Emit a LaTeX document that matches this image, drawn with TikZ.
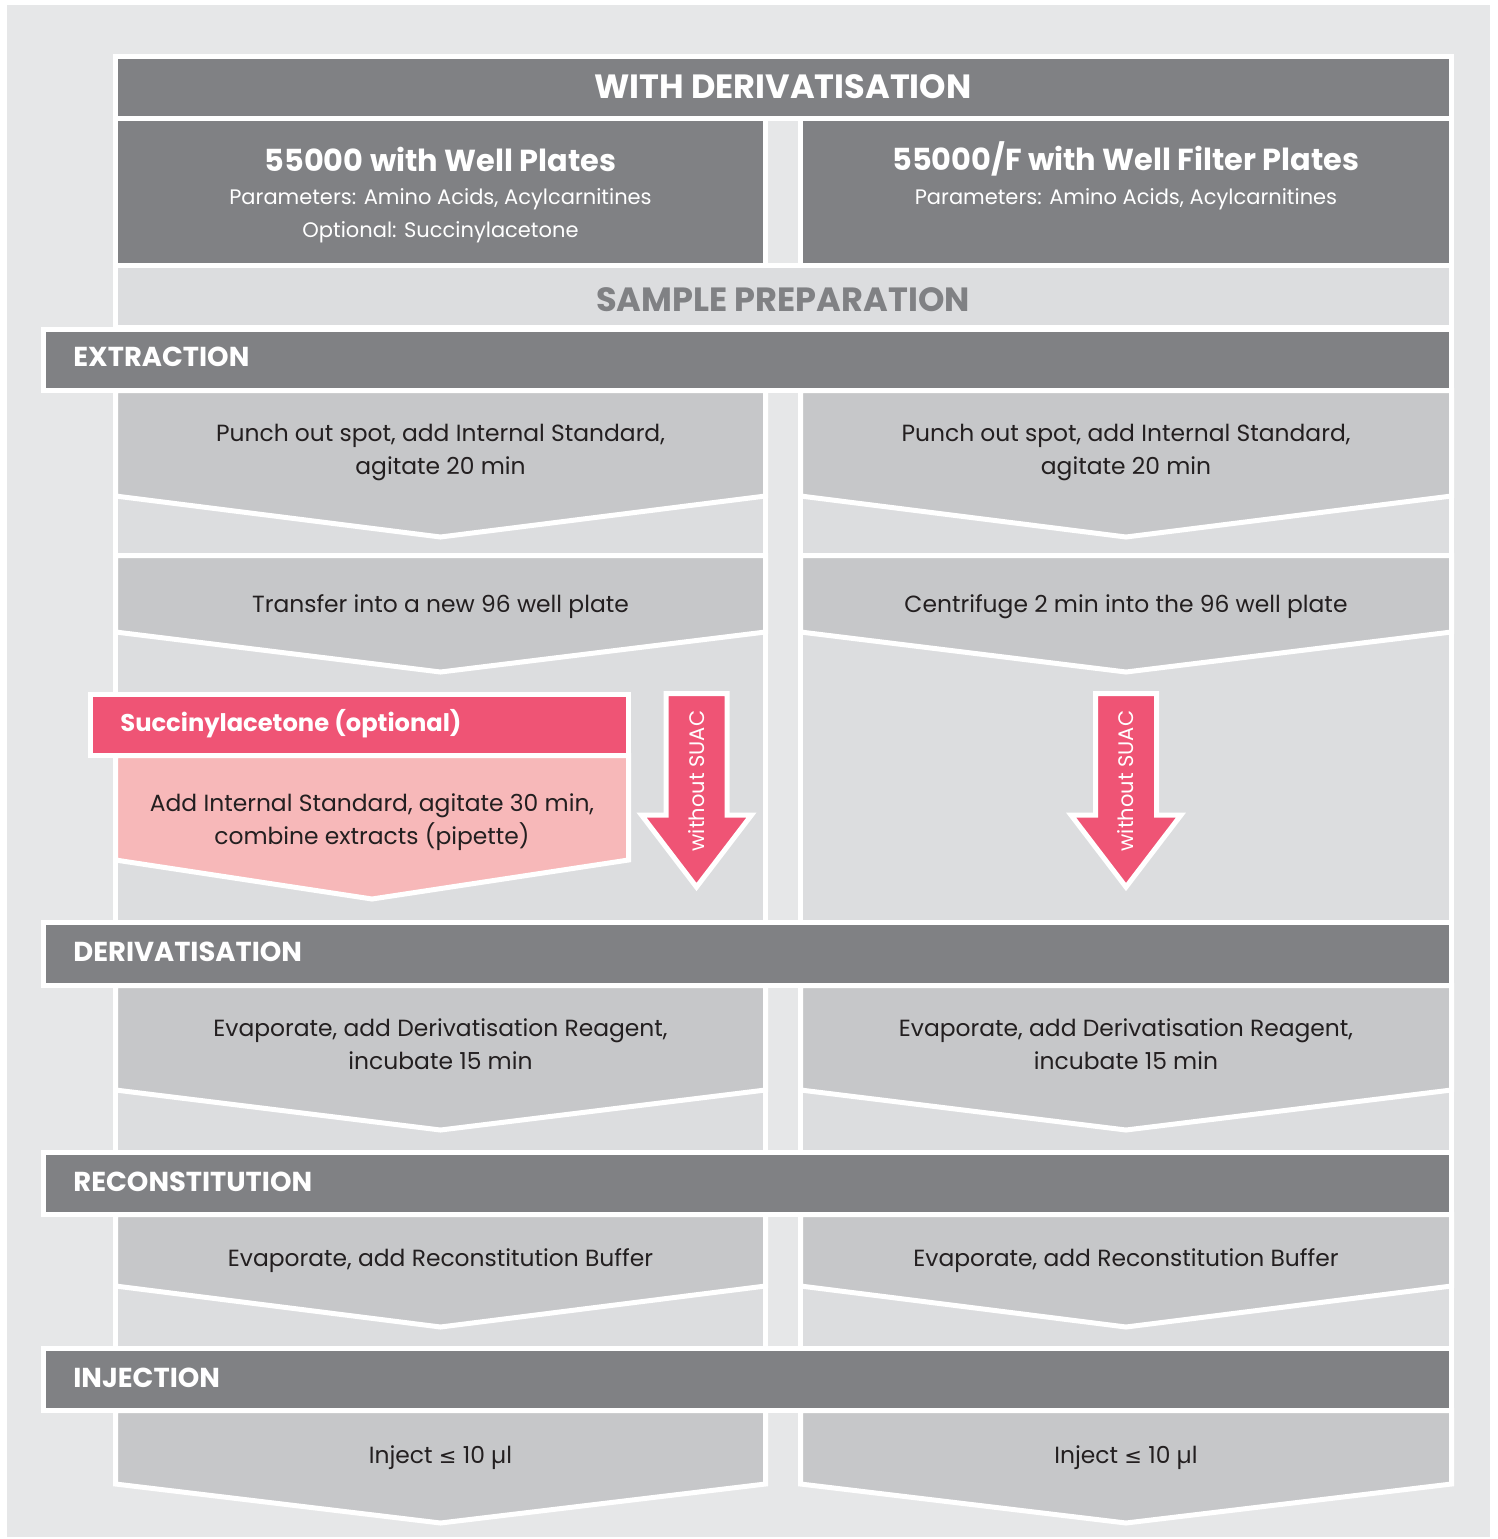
\documentclass[tikz,border=0pt]{standalone}
\usepackage{fontspec}
\setmainfont{Poppins}
\newfontfamily\symfont{DejaVu Sans}
\definecolor{dgray}{HTML}{808184}
\definecolor{panel}{HTML}{DCDDDF}
\definecolor{stepg}{HTML}{C6C7C9}
\definecolor{bggray}{HTML}{E6E7E8}
\definecolor{pinkd}{HTML}{EF5475}
\definecolor{pinkl}{HTML}{F7B8B9}
\definecolor{txt}{HTML}{231F20}
\begin{document}
\begin{tikzpicture}[x=0.5pt,y=-0.5pt,
  wl/.style={draw=white,line width=2.5pt,line join=miter},
  bar/.style={wl,fill=dgray},
  cell/.style={wl,fill=panel},
  chev/.style={wl,fill=stepg},
  pinkbar/.style={wl,fill=pinkd},
  pinkchev/.style={wl,fill=pinkl},
  steptxt/.style={text=txt,align=center,inner sep=0pt,font=\fontsize{11.7}{16.5}\selectfont},
  titletxt/.style={text=white,align=center,inner sep=0pt,font=\bfseries\fontsize{15.2}{17}\selectfont},
  paramtxt/.style={text=white,align=center,inner sep=0pt,font=\fontsize{10.5}{16.5}\selectfont},
  bigtxt/.style={inner sep=0pt,font=\bfseries\fontsize{16.8}{19}\selectfont},
  sectxt/.style={text=white,anchor=west,inner sep=0pt,font=\bfseries\fontsize{13.7}{16}\selectfont},
  suatxt/.style={text=white,anchor=west,inner sep=0pt,font=\bfseries\fontsize{12.1}{15}\selectfont},
  arrtxt/.style={text=white,inner sep=0pt,rotate=90,font=\fontsize{10.5}{12}\selectfont}
]
\useasboundingbox (0,0) rectangle (1498,1539);
\fill[white] (0,0) rectangle (1498,1539);
\fill[bggray] (7,5) rectangle (1490,1537);
% header
\path[bar] (115.5,56.5) rectangle (1451.5,118.5);
\node[bigtxt,text=white] (hdr) at (783,87) {WITH DERIVATISATION};
\path[bar] (115.5,118.5) rectangle (765.5,265.5);
\path[bar] (800.5,118.5) rectangle (1451.5,265.5);
\node[titletxt] (tl) at (440.5,159) {55000 with Well Plates};
\node[paramtxt] (pl) at (440.5,215.5) {Parameters: Amino Acids, Acylcarnitines\\Optional: Succinylacetone};
\node[paramtxt] (pr) at (1126,199) {Parameters: Amino Acids, Acylcarnitines};
\node[titletxt] (tr) at (1126,159) {55000/F with Well Filter Plates};
\path[cell] (115.5,265.5) rectangle (1451.5,327.5);
\node[bigtxt,text=dgray] (sp) at (783,300) {SAMPLE PREPARATION};
% extraction
\path[bar] (43.5,329.5) rectangle (1451.5,390.5);
\node[sectxt] (ext) at (73,357) {EXTRACTION};
\foreach \l/\r/\c in {115.5/765.5/440.5, 800.5/1451.5/1126}{
  \path[cell] (\l,390.5) rectangle (\r,555.5);
  \path[chev] (\l,390.5) -- (\r,390.5) -- (\r,496) -- (\c,537) -- (\l,496) -- cycle;
  \path[cell] (\l,555.5) rectangle (\r,922.5);
  \path[chev] (\l,555.5) -- (\r,555.5) -- (\r,632) -- (\c,672) -- (\l,632) -- cycle;
  \path[cell] (\l,985.5) rectangle (\r,1152.5);
  \path[chev] (\l,985.5) -- (\r,985.5) -- (\r,1090) -- (\c,1130) -- (\l,1090) -- cycle;
  \path[cell] (\l,1214.5) rectangle (\r,1348.5);
  \path[chev] (\l,1214.5) -- (\r,1214.5) -- (\r,1286) -- (\c,1327) -- (\l,1286) -- cycle;
  \path[chev] (\l,1410.5) -- (\r,1410.5) -- (\r,1484) -- (\c,1523) -- (\l,1484) -- cycle;
}
\node[steptxt] (e1l) at (440.5,452.5) {Punch out spot, add Internal Standard,\\agitate 20 min};
\node[steptxt] (e1r) at (1126,452.5) {Punch out spot, add Internal Standard,\\agitate 20 min};
\node[steptxt] (e2l) at (440.5,607) {Transfer into a new 96 well plate};
\node[steptxt] (e2r) at (1126,607) {Centrifuge 2 min into the 96 well plate};
% succinylacetone
\path[pinkchev] (115.5,755.5) -- (628.5,755.5) -- (628.5,860) -- (372,899) -- (115.5,860) -- cycle;
\path[pinkbar] (90.5,694.5) rectangle (628.5,755.5);
\node[suatxt] (sua) at (120,724) {Succinylacetone (optional)};
\node[steptxt] (sub) at (372,822.5) {Add Internal Standard, agitate 30 min,\\combine extracts (pipette)};
% without SUAC arrows
\foreach \c/\n in {696.5/wl, 1126/wr}{
  \path[wl,fill=pinkd] (\c-30.5,693.5) -- (\c+30.5,693.5) -- (\c+30.5,815) -- (\c+55,815) -- (\c,887) -- (\c-55,815) -- (\c-30.5,815) -- cycle;
  \node[arrtxt] (\n) at (\c,781) {without SUAC};
}
% derivatisation
\path[bar] (43.5,922.5) rectangle (1451.5,985.5);
\node[sectxt] (der) at (73,952) {DERIVATISATION};
\node[steptxt] (d1l) at (440.5,1044.5) {Evaporate, add Derivatisation Reagent,\\incubate 15 min};
\node[steptxt] (d1r) at (1126,1044.5) {Evaporate, add Derivatisation Reagent,\\incubate 15 min};
% reconstitution
\path[bar] (43.5,1152.5) rectangle (1451.5,1214.5);
\node[sectxt] (rec) at (73,1182) {RECONSTITUTION};
\node[steptxt] (r1l) at (440.5,1261) {Evaporate, add Reconstitution Buffer};
\node[steptxt] (r1r) at (1126,1261) {Evaporate, add Reconstitution Buffer};
% injection
\path[bar] (43.5,1348.5) rectangle (1451.5,1410.5);
\node[sectxt] (inj) at (73,1378) {INJECTION};
\node[steptxt] (i1l) at (440.5,1458) {Inject {\symfont\fontsize{10.5}{12}\selectfont ≤} 10 µl};
\node[steptxt] (i1r) at (1126,1458) {Inject {\symfont\fontsize{10.5}{12}\selectfont ≤} 10 µl};
\end{tikzpicture}
\end{document}
